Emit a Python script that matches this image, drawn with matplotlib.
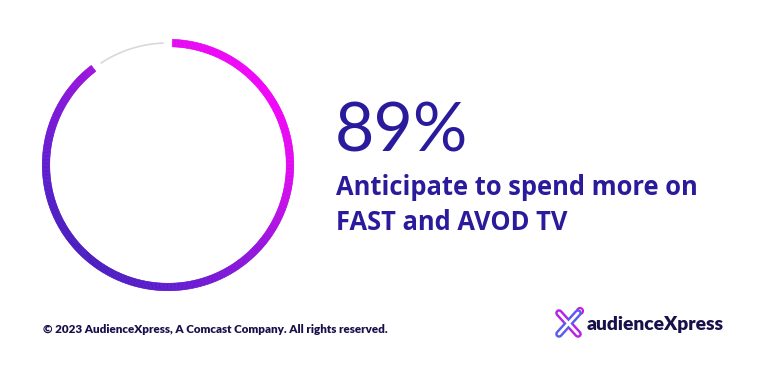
import numpy as np
import matplotlib
matplotlib.use("Agg")
import matplotlib.pyplot as plt
from matplotlib.collections import PolyCollection
from matplotlib.colors import LinearSegmentedColormap
from matplotlib.patches import Circle

# data
share = 89                      # percent
headline = "89%"
sub_lines = ["Anticipate to spend more on", "FAST and AVOD TV"]
footer = "\u00a9 2023 AudienceXpress, A Comcast Company. All rights reserved."
brand = "audienceXpress"

W, H = 762, 367
fig = plt.figure(figsize=(W / 100, H / 100), dpi=100)
ax = fig.add_axes([0, 0, 1, 1])
ax.set_xlim(0, W)
ax.set_ylim(H, 0)
ax.axis("off")

# ring (pixel units, y down)
cx, cy, r, w = 168, 165, 122, 7.5
start = 2.0
sweep = 360 * share / 100
grad = LinearSegmentedColormap.from_list(
    "g", [(0, "#4a1cc0"), (0.15, "#601ad0"), (0.55, "#9a12de"),
          (0.85, "#e008f0"), (1, "#f004f8")])

th = np.radians(np.linspace(start, start + sweep, 500))
ri, ro = r - w / 2, r + w / 2
quads = []
for a, b in zip(th[:-1], th[1:]):
    quads.append([(cx + ri * np.sin(a), cy - ri * np.cos(a)),
                  (cx + ro * np.sin(a), cy - ro * np.cos(a)),
                  (cx + ro * np.sin(b), cy - ro * np.cos(b)),
                  (cx + ri * np.sin(b), cy - ri * np.cos(b))])
# linear gradient: top-right magenta -> bottom-left purple
mid = (th[:-1] + th[1:]) / 2
proj = (np.sin(mid) + np.cos(mid)) / np.sqrt(2)
cols = grad((proj + 1) / 2)
ax.add_collection(PolyCollection(quads, facecolors=cols, edgecolors=cols,
                                 linewidths=0.4))

th2 = np.radians(np.linspace(start + sweep + 4, 358, 100))
ax.plot(cx + r * np.sin(th2), cy - r * np.cos(th2), color="#d9d9d9",
        lw=1.2, solid_capstyle="butt")

navy = "#2a1a9c"
ax.text(335, 151, headline, fontsize=49, color=navy, family="Lato",
        weight="normal", va="baseline", ha="left")
ax.text(336, 195, sub_lines[0], fontsize=18.4, color=navy, family="Open Sans",
        weight="bold", va="baseline", ha="left")
ax.text(336, 230, sub_lines[1], fontsize=18.4, color=navy, family="Open Sans",
        weight="bold", va="baseline", ha="left")

ax.text(43, 333, footer, fontsize=8.4, color="#17104a", family="Lato",
        weight="heavy", va="baseline", ha="left")

# logo
ax.text(587, 330, brand, fontsize=13.9, color="#17104a", family="Lato",
        weight="heavy", va="baseline", ha="left")
for (x0, y0, x1, y1, c) in [(559, 313, 578, 334, "#b822e6"),
                            (559, 334, 578, 313, "#5a5cf0")]:
    ax.plot([x0, x1], [y0, y1], color=c, lw=5.5, solid_capstyle="round")
for (x0, y0, x1, y1) in [(559, 313, 578, 334), (559, 334, 578, 313)]:
    ax.plot([x0, x1], [y0, y1], color="white", lw=2.0, solid_capstyle="round")
ax.add_patch(Circle((580, 311), 3.0, fc="white", ec="#c21ae0", lw=1.5))

fig.savefig("out.png", dpi=100)
